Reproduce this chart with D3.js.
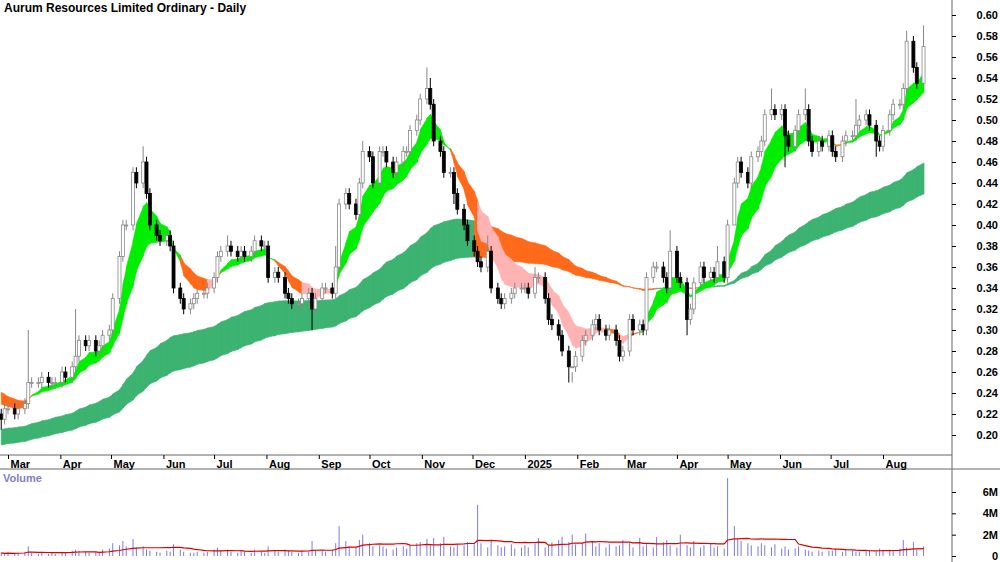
<!DOCTYPE html>
<html><head><meta charset="utf-8">
<script src="https://cdn.jsdelivr.net/npm/d3@7"></script>
<style>body{margin:0;background:#fff}text{font-family:"Liberation Sans",Arial,sans-serif}</style>
</head><body><svg id="chart" width="1000" height="562"></svg>
<script>
// closes every 2 trading days, cents
var closes = [21.5,22.5,22.5,22,22.5,23,25,25,25,25.5,25,25,25,26,25.5,26.5,27.5,29,28.5,29,28,28.5,29.5,30,33,37,40,40,45,44,46,43,40,39,38.5,39,38,34,33,32,32.5,33,33.5,33.5,34,35,37,37.5,38,37.5,37,37.5,37,37.5,38.5,38,38,35,35.5,35,33.5,33,32.5,32.5,33,33.5,32,33,34,34,33.5,36,42,43,42,41,44,47,46.5,44,47,47,46,45,46,47,47,49,50,52,53,51.5,48,47,45,45,43,41.5,40,38.5,37.5,36.5,36,37.5,34,33,32.5,33,33.5,34,34,34,33.5,35,35,33,31,30.5,29.5,28,26.5,26.5,27.5,29,29.5,30.5,31,30,29.5,30,29,27.5,28,31,30,30.5,30,35,36,36,35,34,37.5,35,34.5,31,32,34.5,36,35,35.5,35,36.5,35,40,44,46,45,44,46.5,47,48,50.5,51,50.5,51,48.5,47.5,49,50.5,51,48,47,48,47.5,48.5,47,46.5,48,48.5,48.5,49.5,50,50.5,49.5,48,47.5,49,50.5,51.5,51.5,53,57.5,55,53.5,57];
// wick spikes (index: high)
var spikeHighs = {6:30,16:32,30:47.5,48:39,55:39,71:38,77:48,90:55,91:54,103:39,113:36,121:25,142:39.5,152:38,163:53,170:53,181:52,192:58.5,195:59};
var spikeLows = {0:20.5,66:30,96:42,120:25,145:29.5,155:41,166:45.5,185:46.5};
// volume every 2 trading days, millions
var volume = [
  0.3,0.2,0.3,0.2,0.3,0.4,0.9,0.3,0.2,0.3,0.2,0.3,0.2,0.4,0.3,0.5,0.6,0.5,0.4,0.3,
  0.4,0.3,0.6,0.7,1.2,1.0,1.4,0.9,1.6,0.8,0.9,0.6,0.5,0.4,0.3,0.5,0.4,1.1,0.6,0.4,
  0.3,0.3,0.4,0.3,0.4,0.6,0.8,0.5,0.6,0.4,0.3,0.5,0.4,0.3,0.6,0.4,0.3,0.9,0.5,0.4,
  0.6,0.5,0.4,0.3,0.5,0.4,1.4,0.6,0.5,0.4,0.5,1.2,2.8,1.4,0.9,0.8,1.5,2.0,1.2,0.9,
  1.0,0.9,0.7,0.6,0.8,0.9,0.7,1.0,1.2,1.3,1.6,1.1,1.7,1.2,1.8,0.9,0.8,1.1,1.0,1.3,
  1.1,4.8,1.2,0.8,1.5,1.0,0.8,0.9,1.1,0.7,0.8,1.0,0.8,1.2,1.7,0.8,1.0,1.3,1.5,1.8,
  1.3,2.0,1.1,1.2,2.1,1.3,0.9,1.2,0.8,1.1,0.9,1.0,1.5,1.2,0.8,1.7,0.9,1.1,0.8,1.8,
  1.3,1.5,1.0,0.8,2.0,1.0,0.8,1.4,0.8,1.0,1.2,0.8,0.9,0.7,7.3,2.8,1.6,1.4,1.2,1.0,
  0.9,1.2,1.0,0.8,1.1,0.7,0.9,0.6,0.7,0.9,0.6,0.5,0.4,0.5,0.4,0.5,0.5,0.7,0.4,0.6,
  0.5,0.4,0.4,0.5,0.5,0.4,0.7,0.5,0.6,0.5,0.7,1.5,0.8,1.3,0.6,0.9];
var yTicks = [0.20,0.22,0.24,0.26,0.28,0.30,0.32,0.34,0.36,0.38,0.40,0.42,0.44,0.46,0.48,0.50,0.52,0.54,0.56,0.58,0.60];
var volTicks = [0,2,4,6];
// starting values of the moving averages before the first visible bar
var emaSeed = {sf:0.235, ss:0.245, lf:0.205, ls:0.19};

var svg = d3.select("#chart");
var W = 952;

// trading dates every 2 weekdays from 26 Feb 2024
var dates = [], d = new Date(2024,1,26), k = 0;
while (dates.length < closes.length) {
  if (d.getDay() != 0 && d.getDay() != 6) { if (k % 2 == 0) dates.push(new Date(d)); k++; }
  d = new Date(d.getFullYear(), d.getMonth(), d.getDate()+1);
}
var data = closes.map(function(c, i) {
  var o = i == 0 ? 22 : closes[i-1];
  o = o / 100; c = c / 100;
  var hi = spikeHighs[i] != null ? spikeHighs[i]/100 : Math.max(o,c) + 0.005;
  var lo = spikeLows[i] != null ? spikeLows[i]/100 : Math.min(o,c) - 0.005;
  return {date:dates[i], o:o, c:c, h:hi, l:lo, v:volume[i] || 0};
});

var x = d3.scaleTime().domain([new Date(2024,2,1), new Date(2025,7,1)]).range([8, 883]);
var y = d3.scaleLinear().domain([0.20, 0.60]).range([435, 15]);
var yv = d3.scaleLinear().domain([0, 6]).range([556, 492]);

// moving average bands
function ema(prev, v, p) { var a = 2/(p+1); return prev + a*(v-prev); }
var sf = emaSeed.sf, ss = emaSeed.ss, lf = emaSeed.lf, ls = emaSeed.ls, since = 0;
data.forEach(function(p, i) {
  sf = ema(sf, p.c, 6); ss = ema(ss, p.c, 13); lf = ema(lf, p.c, 62); ls = ema(ls, p.c, 100);
  p.sf = sf; p.ss = ss; p.lf = lf; p.ls = ls;
  if (sf < ss) since++; else since = 0;
  p.sCol = sf >= ss ? "#00ee00" : (since < 7 || ss - sf < 0.004 ? "#ff6a1a" : "#ffb3b3");
  var back = data[Math.max(0, i-4)].lf || lf;
  p.lCol = lf > back - 0.001 ? "#3cb371" : "#ff6a1a";
});

function band(a, b, col) {
  for (var i = 0; i < data.length-1; i++) {
    var p = data[i], q = data[i+1];
    svg.append("polygon")
      .attr("points", [[x(p.date),y(p[a])],[x(q.date)+0.5,y(q[a])],[x(q.date)+0.5,y(q[b])],[x(p.date),y(p[b])]].join(" "))
      .attr("fill", p[col]).attr("stroke", p[col]).attr("stroke-width", 0.6);
  }
}
band("lf", "ls", "lCol");
band("sf", "ss", "sCol");

// candles
var cw = 3;
var cg = svg.append("g").selectAll("g").data(data).enter().append("g");
cg.append("line")
  .attr("x1", function(p){return x(p.date);}).attr("x2", function(p){return x(p.date);})
  .attr("y1", function(p){return y(p.h);}).attr("y2", function(p){return y(p.l);})
  .attr("stroke", function(p){return p.c >= p.o ? "#888" : "#000";});
cg.append("rect")
  .attr("x", function(p){return x(p.date)-cw/2;}).attr("width", cw)
  .attr("y", function(p){return y(Math.max(p.o,p.c));})
  .attr("height", function(p){return Math.max(1, Math.abs(y(p.o)-y(p.c)));})
  .attr("fill", function(p){return p.c >= p.o ? "#fff" : "#000";})
  .attr("stroke", function(p){return p.c >= p.o ? "#888" : "#000";}).attr("stroke-width", 0.8);

// frame
svg.append("line").attr("x1", W).attr("x2", W).attr("y1", 0).attr("y2", 562).attr("stroke", "#666");
svg.append("line").attr("x1", 0).attr("x2", 1000).attr("y1", 469).attr("y2", 469).attr("stroke", "#666");
svg.append("line").attr("x1", 0).attr("x2", W).attr("y1", 455).attr("y2", 455).attr("stroke", "#666");

// y axis
var ya = svg.append("g").attr("transform", "translate(" + W + ",0)")
  .call(d3.axisRight(y).tickValues(yTicks).tickSize(4).tickFormat(d3.format(".2f")));
ya.select(".domain").remove();
ya.selectAll("text").attr("x", 46).attr("text-anchor", "end").attr("font-size", 11).attr("font-weight", "bold");

var va = svg.append("g").attr("transform", "translate(" + W + ",0)")
  .call(d3.axisRight(yv).tickValues(volTicks).tickSize(4).tickFormat(function(v){return v == 0 ? "0" : v + "M";}));
va.select(".domain").remove();
va.selectAll("text").attr("x", 46).attr("text-anchor", "end").attr("font-size", 11).attr("font-weight", "bold");

// x axis
var months = d3.timeMonth.range(new Date(2024,2,1), new Date(2025,8,1));
var xa = svg.append("g").attr("transform", "translate(0,455)")
  .call(d3.axisBottom(x).tickValues(months).tickSize(4)
    .tickFormat(function(m){ return m.getMonth() == 0 ? d3.timeFormat("%Y")(m) : d3.timeFormat("%b")(m); }));
xa.select(".domain").remove();
xa.selectAll("text").attr("text-anchor", "start").attr("x", 2).attr("y", 5).attr("font-size", 11).attr("font-weight", "bold");

// volume
svg.append("g").selectAll("line").data(data).enter().append("line")
  .attr("x1", function(p){return x(p.date);}).attr("x2", function(p){return x(p.date);})
  .attr("y1", yv(0)).attr("y2", function(p){return yv(p.v);})
  .attr("stroke", "#7b7bdc").attr("stroke-width", 1);
var ma = data.map(function(p, i) {
  var s = data.slice(Math.max(0, i-14), i+1);
  return [x(p.date), yv(d3.mean(s, function(q){return q.v;}))];
});
svg.append("path").attr("d", d3.line()(ma)).attr("fill", "none").attr("stroke", "#e00000").attr("stroke-width", 1.2);

svg.append("text").attr("x", 4).attr("y", 12).attr("font-size", 12).attr("font-weight", "bold").text("Aurum Resources Limited Ordinary - Daily");
svg.append("text").attr("x", 3).attr("y", 482).attr("font-size", 11).attr("font-weight", "bold").attr("fill", "#8080c8").text("Volume");
</script></body></html>
